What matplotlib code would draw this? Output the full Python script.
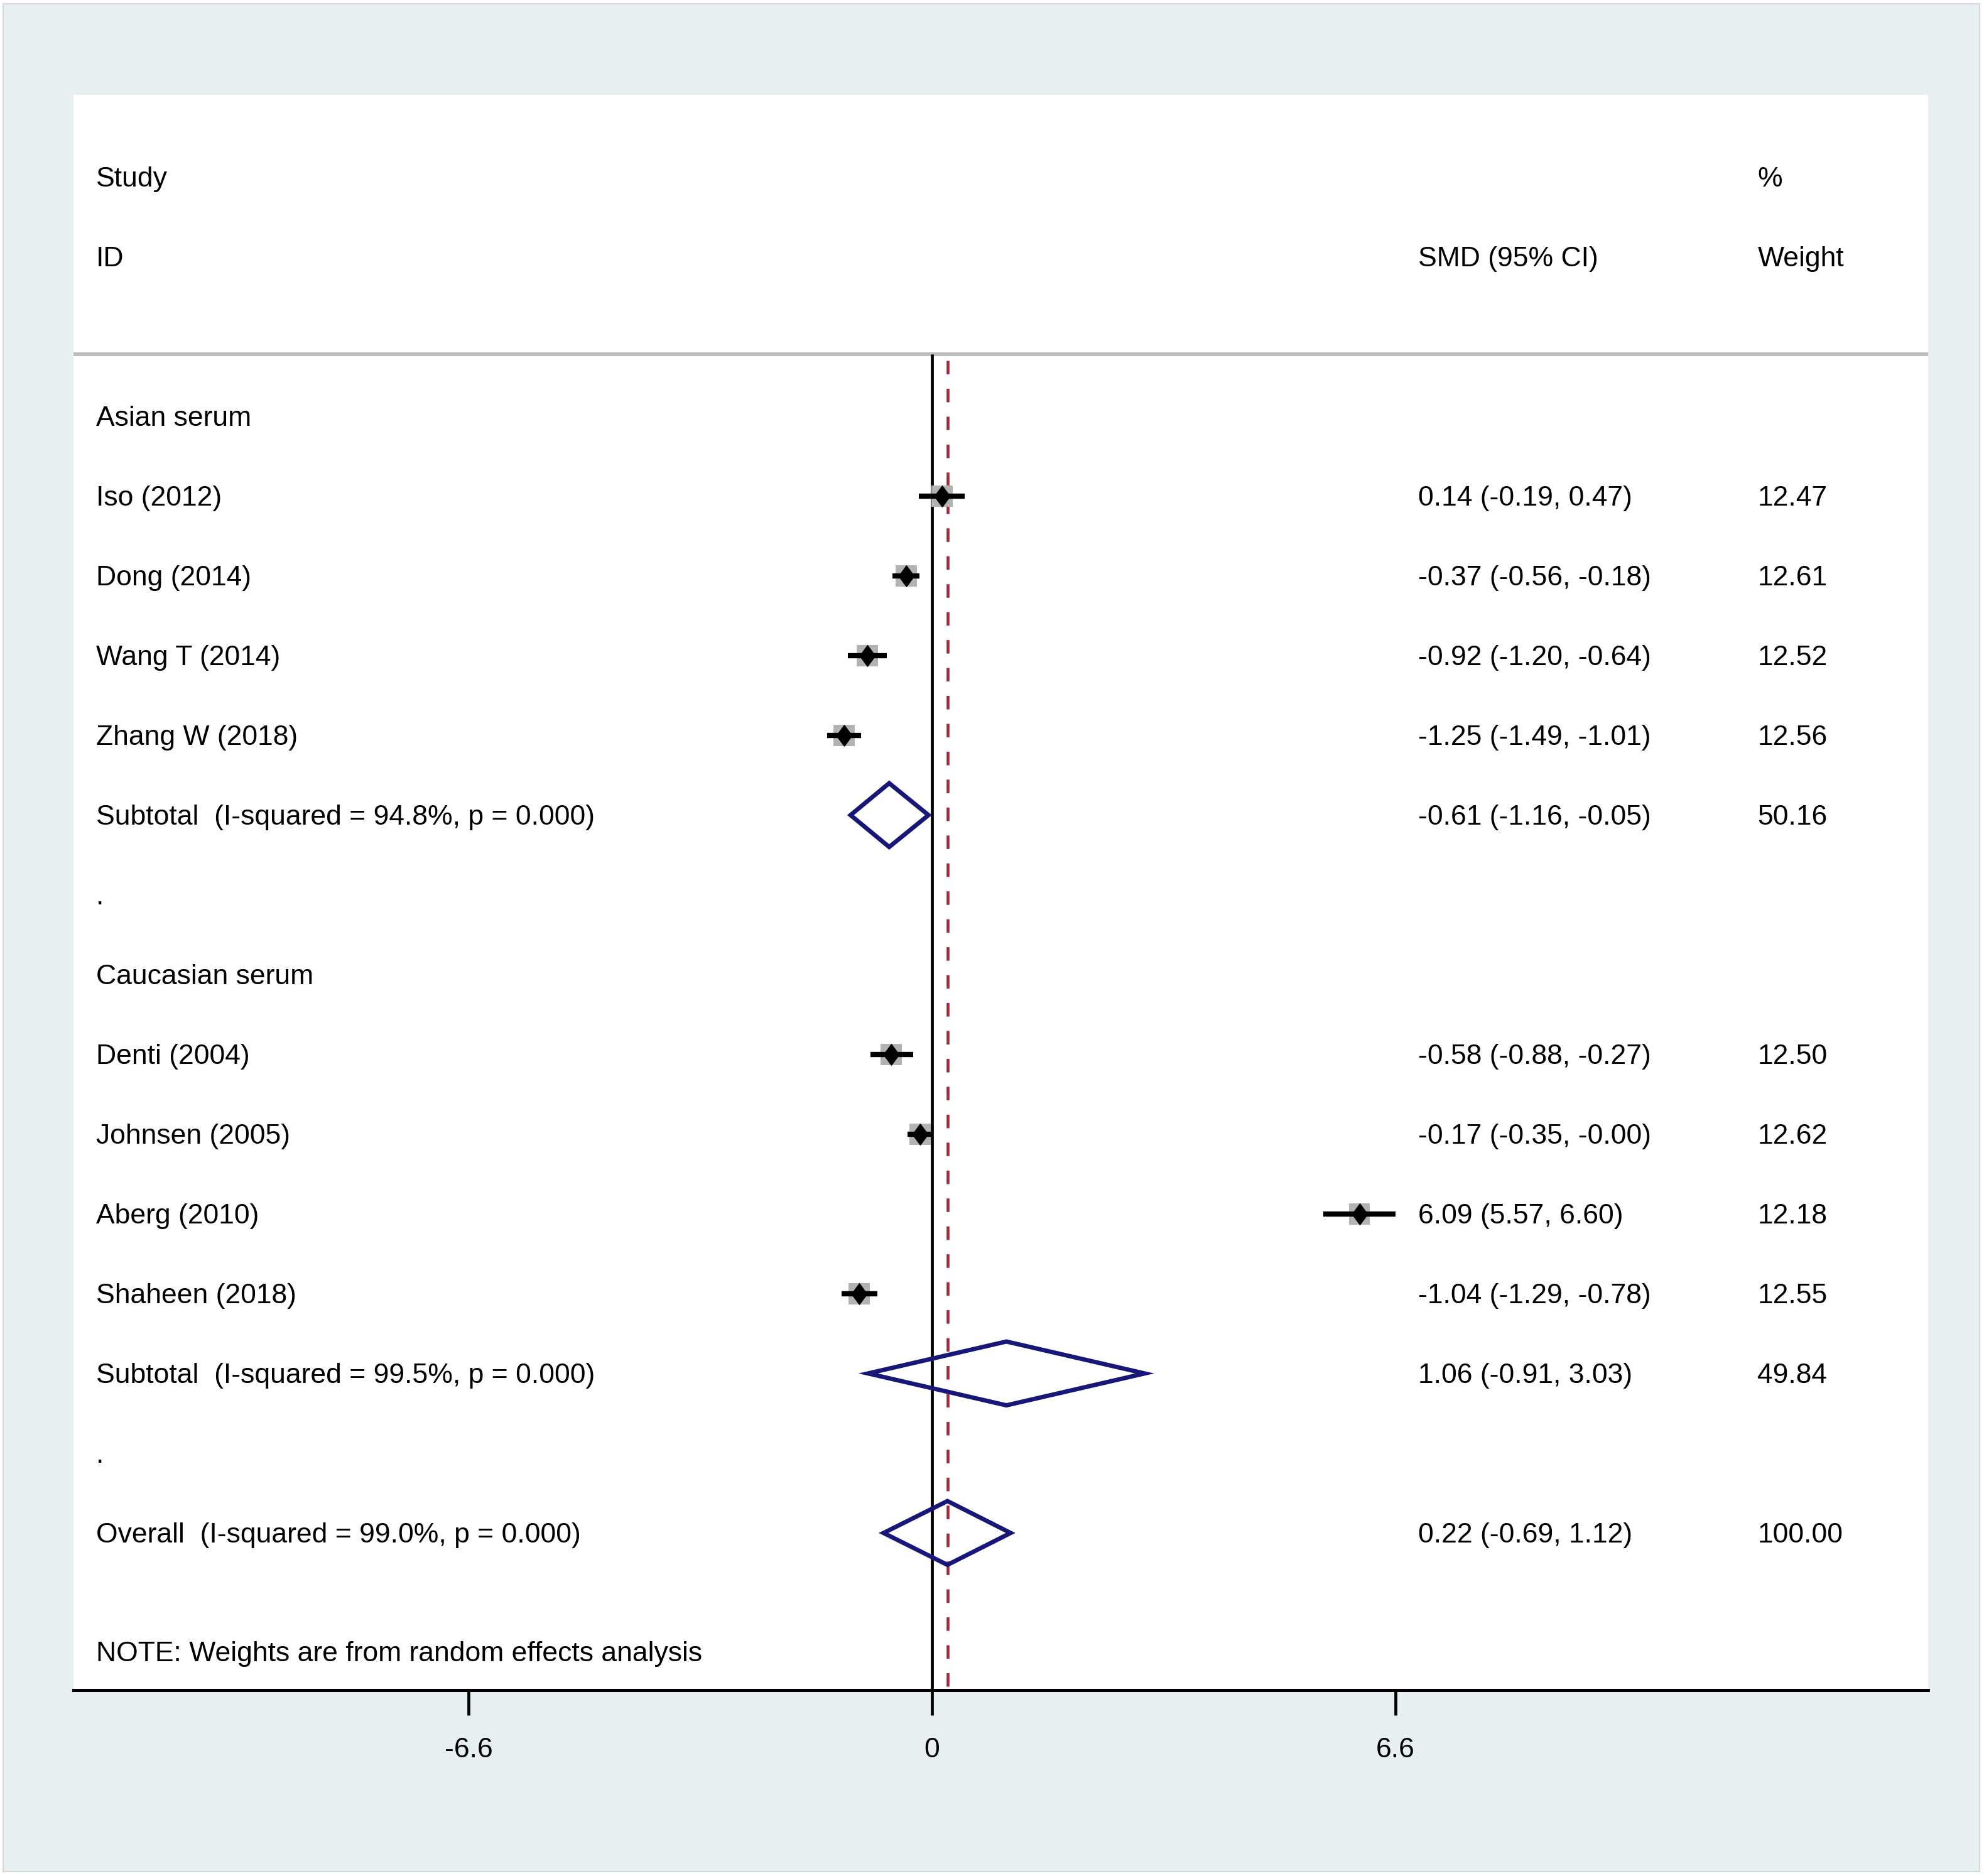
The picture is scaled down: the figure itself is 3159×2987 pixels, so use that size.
import matplotlib
matplotlib.use("Agg")
import matplotlib.pyplot as plt
import matplotlib.transforms as mtransforms
from matplotlib.patches import Polygon, Rectangle
from matplotlib.path import Path

plt.rcParams['font.family'] = ['Liberation Sans', 'DejaVu Sans']
plt.rcParams['axes.unicode_minus'] = False
FS = 32

# study-level estimates
studies = ["Iso (2012)", "Dong (2014)", "Wang T (2014)", "Zhang W (2018)",
           "Denti (2004)", "Johnsen (2005)", "Aberg (2010)", "Shaheen (2018)"]
smd = [0.14, -0.37, -0.92, -1.25, -0.58, -0.17, 6.09, -1.04]
ci_lo = [-0.19, -0.56, -1.20, -1.49, -0.88, -0.35, 5.57, -1.29]
ci_hi = [0.47, -0.18, -0.64, -1.01, -0.27, -0.00, 6.60, -0.78]
weights = [12.47, 12.61, 12.52, 12.56, 12.50, 12.62, 12.18, 12.55]
study_rows = [4, 5, 6, 7, 11, 12, 13, 14]

# pooled estimates
pooled_labels = ["Subtotal  (I-squared = 94.8%, p = 0.000)",
                 "Subtotal  (I-squared = 99.5%, p = 0.000)",
                 "Overall  (I-squared = 99.0%, p = 0.000)"]
pooled_est = [-0.61, 1.06, 0.22]
pooled_lo = [-1.16, -0.91, -0.69]
pooled_hi = [-0.05, 3.03, 1.12]
pooled_wt = [50.16, 49.84, 100.00]
pooled_rows = [8, 15, 17]

group_labels = ["Asian serum", "Caucasian serum"]
group_rows = [3, 10]
spacer_rows = [9, 16]
xticks = [-6.6, 0, 6.6]
xtick_labels = ["-6.6", "0", "6.6"]

W, H = 3159, 2987
fig = plt.figure(figsize=(W / 100, H / 100), dpi=100)
fig.patch.set_facecolor("white")
fig.add_artist(Rectangle((5 / W, 1 - 2980 / H), 3147 / W, 2974 / H, transform=fig.transFigure,
                         facecolor="#e8eff1", edgecolor="#d3d8da", lw=1.5, zorder=0))

ax = fig.add_axes([117 / W, 1 - 2691 / H, 2953 / W, 2540 / H])
ax.set_facecolor("white")
ax.set_xlim(-12.23, 14.19)
ax.set_ylim(18.97, -1.03)
for side in ("top", "left", "right"):
    ax.spines[side].set_visible(False)
ax.spines["bottom"].set_linewidth(3.6)
ax.set_yticks([])
ax.set_xticks(xticks, xtick_labels)
ax.tick_params(axis="x", length=29, width=3.4, pad=25, labelsize=FS, direction="out")

line_y = 2.22
ax.axhline(line_y, color="#bdbdbd", lw=4.3, zorder=1)
ax.vlines(0, line_y, 18.97, color="black", lw=3.4, zorder=2)
ax.vlines(pooled_est[-1], line_y + 0.08, 18.97, color="#a8283c", lw=3.3,
          linestyles=(0, (4.7, 5.0)), zorder=2)

# study boxes, CIs and point markers
ax.scatter(smd, study_rows, s=[w * 48 for w in weights], marker="s",
           color="#b3b3b3", linewidths=0, zorder=3)
ax.hlines(study_rows, ci_lo, ci_hi, color="black", lw=6, capstyle="butt", zorder=4)
pt = Path([(0, 1), (0.74, 0), (0, -1), (-0.74, 0), (0, 1)], closed=True)
ax.plot(smd, study_rows, linestyle="none", marker=pt, ms=24, color="black", zorder=5)

# pooled diamonds
for est, lo, hi, r in zip(pooled_est, pooled_lo, pooled_hi, pooled_rows):
    h = 0.4
    ax.add_patch(Polygon([(lo, r), (est, r - h), (hi, r), (est, r + h)], closed=True,
                         fill=False, edgecolor="#17177a", lw=5, zorder=4))

tr = mtransforms.blended_transform_factory(ax.transAxes, ax.transData)
x_lab, x_ci, x_wt = 0.0122, 0.725, 0.908
dy = 0.03
kw = dict(transform=tr, fontsize=FS, va="center", ha="left", color="black")

ax.text(x_lab, 0 + dy, "Study", **kw)
ax.text(x_lab, 1 + dy, "ID", **kw)
ax.text(x_ci, 1 + dy, "SMD (95% CI)", **kw)
ax.text(x_wt, 0 + dy, "%", **kw)
ax.text(x_wt, 1 + dy, "Weight", **kw)

for lab, r in zip(group_labels, group_rows):
    ax.text(x_lab, r + dy, lab, **kw)
for r in spacer_rows:
    ax.text(x_lab, r + dy, ".", **kw)
for name, e, lo, hi, w, r in zip(studies, smd, ci_lo, ci_hi, weights, study_rows):
    ax.text(x_lab, r + dy, name, **kw)
    ax.text(x_ci, r + dy, f"{e:.2f} ({lo:.2f}, {hi:.2f})", **kw)
    ax.text(x_wt, r + dy, f"{w:.2f}", **kw)
for lab, e, lo, hi, w, r in zip(pooled_labels, pooled_est, pooled_lo, pooled_hi, pooled_wt, pooled_rows):
    ax.text(x_lab, r + dy, lab, **kw)
    ax.text(x_ci, r + dy, f"{e:.2f} ({lo:.2f}, {hi:.2f})", **kw)
    ax.text(x_wt, r + dy, f"{w:.2f}", **kw)
ax.text(x_lab, 18.49 + dy, "NOTE: Weights are from random effects analysis", **kw)

fig.savefig("out.png", dpi=100, facecolor=fig.get_facecolor())
